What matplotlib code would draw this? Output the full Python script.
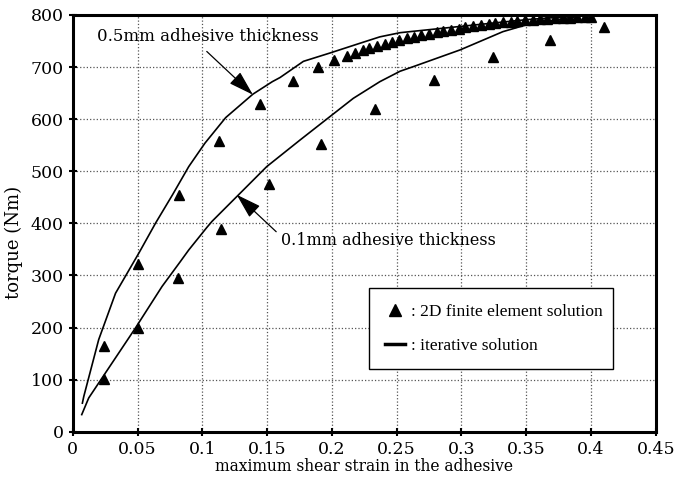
import numpy as np
import matplotlib
matplotlib.use('Agg')
import matplotlib.pyplot as plt
from matplotlib.lines import Line2D

# iterative solution curves
x_line_05 = [0.0074, 0.0085, 0.020, 0.033, 0.051, 0.064, 0.077, 0.0895, 0.102, 0.118, 0.139,
             0.154, 0.160, 0.178, 0.1985, 0.222, 0.237, 0.2526, 0.299, 0.350, 0.399, 0.41]
y_line_05 = [55, 68, 177, 266, 343, 401, 455, 509, 554, 603, 648,
             672, 680, 711, 727, 746, 758, 766, 778, 791, 800, 802]
x_line_01 = [0.0069, 0.0123, 0.0252, 0.0483, 0.0689, 0.0828, 0.0895, 0.1034, 0.1075, 0.128,
             0.1497, 0.1754, 0.1985, 0.2165, 0.237, 0.2526, 0.263, 0.299, 0.332, 0.350, 0.381, 0.399, 0.41]
y_line_01 = [33, 65, 113, 199, 279, 326, 349, 392, 404, 455,
             509, 560, 605, 640, 672, 692, 701, 733, 768, 781, 794, 800, 802]

# 2D finite element solution points
x_fe_05 = [0.0242, 0.0501, 0.0823, 0.113, 0.1445, 0.170, 0.189, 0.202,
           0.212, 0.218, 0.224, 0.229, 0.235, 0.241, 0.246, 0.252, 0.258, 0.263,
           0.269, 0.275, 0.281, 0.286, 0.292, 0.298, 0.303, 0.309, 0.315, 0.321,
           0.326, 0.332, 0.338, 0.343, 0.349, 0.355, 0.361, 0.366, 0.372, 0.378,
           0.384, 0.389, 0.395, 0.400]
y_fe_05 = [165, 322, 455, 558, 629, 674, 701, 714,
           722, 727, 732, 737, 741, 745, 749, 752, 755, 758,
           761, 764, 767, 769, 772, 774, 776, 778, 780, 782,
           784, 786, 787, 789, 790, 791, 792, 793, 794, 795,
           795, 796, 796, 797]
x_fe_01 = [0.0242, 0.0501, 0.0815, 0.1144, 0.1517, 0.1916, 0.2333, 0.279, 0.324, 0.368, 0.410]
y_fe_01 = [101, 200, 296, 390, 476, 553, 619, 675, 719, 752, 777]

x_ticks = [0, 0.05, 0.1, 0.15, 0.2, 0.25, 0.3, 0.35, 0.4, 0.45]
x_ticklabels = ['0', '0.05', '0.1', '0.15', '0.2', '0.25', '0.3', '0.35', '0.4', '0.45']
y_ticks = [0, 100, 200, 300, 400, 500, 600, 700, 800]

plt.rcParams['font.family'] = 'DejaVu Serif'

fig = plt.figure(figsize=(6.74, 4.83), dpi=100)
ax = fig.add_axes([0.108, 0.106, 0.865, 0.863])

ax.plot(x_line_05, y_line_05, c='black', lw=1.2)
ax.plot(x_line_01, y_line_01, c='black', lw=1.2)
ax.plot(x_fe_05, y_fe_05, ls='none', marker='^', c='black', ms=7.5)
ax.plot(x_fe_01, y_fe_01, ls='none', marker='^', c='black', ms=7.5)

ax.set_xlim(0, 0.45)
ax.set_ylim(0, 800)
ax.set_xticks(x_ticks)
ax.set_xticklabels(x_ticklabels)
ax.set_yticks(y_ticks)
ax.tick_params(labelsize=12.5, direction='inout', length=6, width=1.5)
ax.grid(True, ls=':', c='#555555', lw=0.9)
for s in ax.spines.values():
    s.set_linewidth(2.2)

ax.set_xlabel('maximum shear strain in the adhesive', fontsize=11.2, labelpad=0)
ax.set_ylabel('torque (Nm)', fontsize=13)
ax.yaxis.set_label_coords(-0.085, 0.455)

arrow = dict(arrowstyle='-|>,head_length=1.3,head_width=0.4', color='black', lw=0.9,
             mutation_scale=12, shrinkA=0, shrinkB=0)
ax.text(0.0188, 758, '0.5mm adhesive thickness', fontsize=12, va='center')
ax.annotate('', xy=(0.139, 647), xytext=(0.1034, 730), arrowprops=arrow)
ax.text(0.161, 368, '0.1mm adhesive thickness', fontsize=11.5, va='center')
ax.annotate('', xy=(0.1265, 455), xytext=(0.157, 384), arrowprops=arrow)

handles = [Line2D([], [], ls='none', marker='^', c='black', ms=9),
           Line2D([], [], c='black', lw=2.5)]
leg = ax.legend(handles, [': 2D finite element solution', ': iterative solution'],
                loc='lower left', bbox_to_anchor=(0.508, 0.150, 0.418, 0.203), mode='expand',
                borderaxespad=0, prop={'family': 'Liberation Serif', 'size': 12.5},
                frameon=True, fancybox=False, framealpha=1, edgecolor='black',
                handlelength=1.2, handletextpad=0.3, labelspacing=1.0, borderpad=0.9)
leg.get_frame().set_linewidth(1.0)

fig.savefig('out.png', dpi=100)
